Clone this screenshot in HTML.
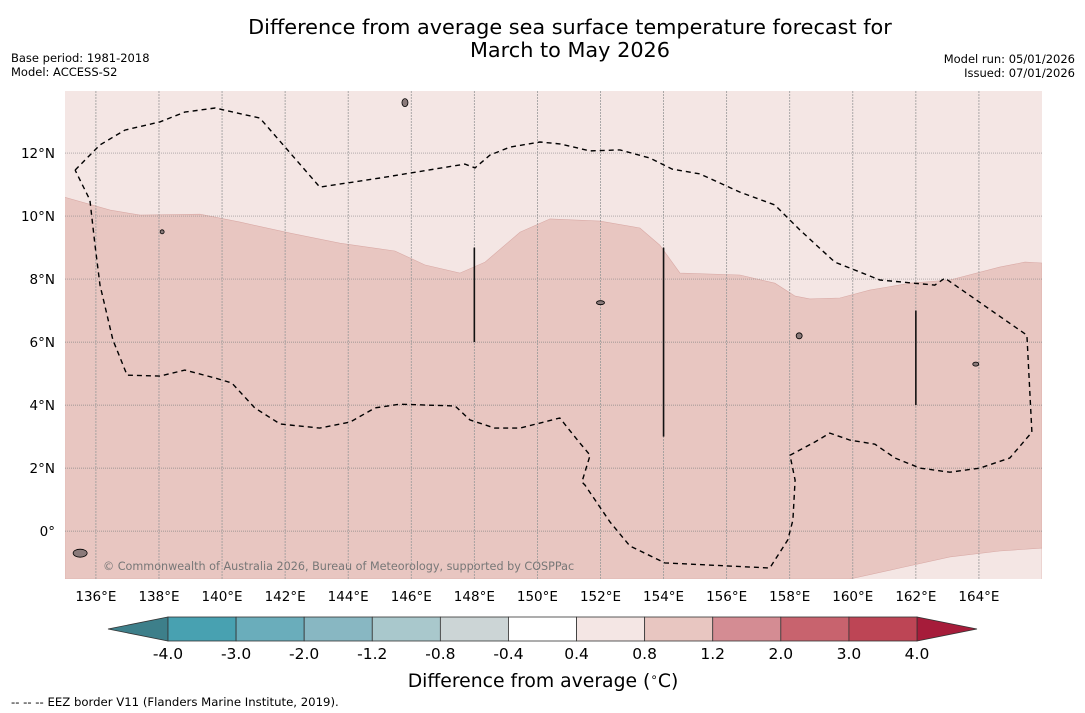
<!DOCTYPE html>
<html><head><meta charset="utf-8"><style>
body{margin:0;background:#fff;font-family:"DejaVu Sans","Liberation Sans",sans-serif;}
svg{display:block}
</style></head><body>
<svg id="s" width="1085" height="713" xmlns="http://www.w3.org/2000/svg">
<text x="570" y="34" font-size="20.8" text-anchor="middle">Difference from average sea surface temperature forecast for</text>
<text x="570" y="57" font-size="20.8" text-anchor="middle">March to May 2026</text>
<text x="11" y="62" font-size="11.5">Base period: 1981-2018</text>
<text x="11" y="76" font-size="11.5">Model: ACCESS-S2</text>
<text x="1075" y="63" font-size="11.5" text-anchor="end">Model run: 05/01/2026</text>
<text x="1075" y="77" font-size="11.5" text-anchor="end">Issued: 07/01/2026</text>
<g id="map"></g>
<g id="cb"></g>
<text x="543" y="687" font-size="18.8" text-anchor="middle">Difference from average (<tspan font-size="12" dy="-6">∘</tspan><tspan dy="6">C)</tspan></text>
<text x="11" y="706" font-size="11.7">--  --  -- EEZ border V11 (Flanders Marine Institute, 2019).</text>
</svg>
<script>
const lonTicks=[136,138,140,142,144,146,148,150,152,154,156,158,160,162,164];
const latTicks=[12,10,8,6,4,2,0];
const warmBoundary=[[135,10.6],[136.45,10.19],[137.4,10.03],[139.3,10.06],[140.57,9.81],[142.15,9.46],[143.74,9.14],[145.48,8.89],[146.43,8.45],[147.54,8.19],[148.34,8.54],[149.45,9.49],[150.4,9.91],[151.98,9.84],[153.25,9.62],[153.88,9.08],[154.52,8.19],[156.42,8.13],[157.53,7.87],[158.17,7.46],[158.64,7.37],[159.59,7.4],[160.54,7.65],[161.81,7.87],[163.08,7.97],[164.66,8.38],[165.46,8.54],[166,8.51]];
const southBoundary=[[159.91,-1.52],[161.49,-1.17],[163.08,-0.82],[164.66,-0.63],[166,-0.54]];
const eez=[[135.34,11.46],[136.13,12.26],[136.92,12.73],[138.03,12.99],[138.82,13.3],[139.78,13.43],[141.2,13.11],[143.1,10.92],[145.01,11.21],[147.7,11.65],[148.02,11.53],[148.5,11.94],[149.13,12.19],[150.08,12.35],[150.71,12.29],[151.67,12.07],[152.62,12.1],[153.57,11.84],[154.27,11.49],[155.15,11.34],[156.42,10.76],[157.53,10.35],[158.32,9.56],[159.43,8.54],[160.86,7.97],[162.6,7.81],[162.92,8.03],[165.52,6.22],[165.68,3.14],[164.98,2.32],[164.03,2],[163.08,1.87],[162.13,2],[161.34,2.32],[160.7,2.76],[159.91,2.89],[159.27,3.11],[158.8,2.83],[158.01,2.41],[158.17,1.62],[158.1,0.35],[157.94,-0.28],[157.37,-1.17],[154.04,-1.01],[152.93,-0.47],[152.3,0.29],[151.51,1.46],[151.41,1.56],[151.67,2.41],[151.35,2.79],[150.71,3.59],[149.45,3.27],[148.65,3.27],[147.86,3.53],[147.39,3.97],[145.64,4.03],[144.85,3.91],[144.06,3.46],[143.1,3.27],[141.84,3.4],[141.04,3.91],[140.31,4.7],[139.78,4.86],[138.82,5.11],[138.03,4.92],[136.99,4.95],[136.54,6.07],[136.13,7.81],[135.97,9.08],[135.81,10.51],[135.34,11.46]];
const borderLines=[[148,9,6],[154,9,3],[162,7,4]];
const cbLevels=["-4.0","-3.0","-2.0","-1.2","-0.8","-0.4","0.4","0.8","1.2","2.0","3.0","4.0"];
const cbColors=["#48a1b1","#6aadbb","#88b7c2","#a9c8cc","#ccd5d6","#ffffff","#f4e6e4","#e8c6c1","#d48c93","#c8636e","#bd4555"];
const NS="http://www.w3.org/2000/svg";
const L=65,R=1042,T=91,B=579,lon0=135.02,lon1=166.0,lat0=13.97,lat1=-1.52;
const X=lo=>L+(lo-lon0)/(lon1-lon0)*(R-L);
const Y=la=>T+(lat0-la)/(lat0-lat1)*(B-T);
function mk(t,a,p){const e=document.createElementNS(NS,t);for(const k in a)e.setAttribute(k,a[k]);p.appendChild(e);return e;}
const m=document.getElementById('map');
const clip=mk('clipPath',{id:'mc'},m);mk('rect',{x:L,y:T,width:R-L,height:B-T},clip);
const g=mk('g',{'clip-path':'url(#mc)'},m);
let bg=mk('rect',{x:L,y:T,width:R-L,height:B-T,fill:'#f4e6e4'},g);

let d='M'+warmBoundary.map(p=>X(p[0]).toFixed(1)+','+Y(p[1]).toFixed(1)).join('L')+'L'+R+','+B+'L'+L+','+B+'Z';
let w=mk('path',{d:d,fill:'#e8c6c1',stroke:'#d9aaa6','stroke-width':0.6},g);

d='M'+southBoundary.map(p=>X(p[0]).toFixed(1)+','+Y(p[1]).toFixed(1)).join('L')+'L'+R+','+(B+5)+'L'+X(southBoundary[0][0])+','+(B+5)+'Z';
let sb=mk('path',{d:d,fill:'#f4e6e4',stroke:'#d9aaa6','stroke-width':0.6},g);

lonTicks.forEach(v=>{const l=mk('line',{x1:X(v),x2:X(v),y1:T,y2:B,stroke:'#999','stroke-width':0.8,'stroke-dasharray':'2,1'},g);

const t=mk('text',{x:X(v),y:B+22,'font-size':13.5,'text-anchor':'middle'},m);t.textContent=v+'°E';
});
latTicks.forEach(v=>{const l=mk('line',{x1:L,x2:R,y1:Y(v),y2:Y(v),stroke:'#888','stroke-width':0.7,'stroke-dasharray':'1,1'},g);

const t=mk('text',{x:55,y:Y(v)+5,'font-size':13.5,'text-anchor':'end'},m);t.textContent=v===0?'0°':v+'°N';
});
let e=mk('path',{d:'M'+eez.map(p=>X(p[0]).toFixed(1)+','+Y(p[1]).toFixed(1)).join('L'),fill:'none',stroke:'#000','stroke-width':1.4,'stroke-dasharray':'5,4'},g);

borderLines.forEach(b=>{const l=mk('line',{x1:X(b[0]),x2:X(b[0]),y1:Y(b[1]),y2:Y(b[2]),stroke:'#111','stroke-width':1.6},g);
});
[[135.5,-0.7,7,4],[145.8,13.6,3,4],[138.1,9.5,2,2],[152.0,7.25,4,2],[158.3,6.2,3,3],[163.9,5.3,3,2]].forEach(i=>{const c=mk('ellipse',{cx:X(i[0]),cy:Y(i[1]),rx:i[2],ry:i[3],fill:'#8a7a7a',stroke:'#000','stroke-width':0.8},g);
});
let cr=mk('text',{x:103,y:570,'font-size':11.2,fill:'#777'},g);cr.textContent='© Commonwealth of Australia 2026, Bureau of Meteorology, supported by COSPPac';

const cb=document.getElementById('cb');
const c0=168,c1=917,cy0=617,cy1=641,bw=(c1-c0)/cbColors.length;
let lt=mk('polygon',{points:`108,629 ${c0},${cy0} ${c0},${cy1}`,fill:'#3d7f8a',stroke:'#333','stroke-width':0.8},cb);

let rt=mk('polygon',{points:`977,629 ${c1},${cy0} ${c1},${cy1}`,fill:'#a61c3a',stroke:'#333','stroke-width':0.8},cb);

cbColors.forEach((c,i)=>{const r=mk('rect',{x:c0+i*bw,y:cy0,width:bw,height:cy1-cy0,fill:c,stroke:'#333','stroke-width':0.8},cb);
});
cbLevels.forEach((v,i)=>{const t=mk('text',{x:c0+i*bw,y:659,'font-size':15.5,'text-anchor':'middle'},cb);t.textContent=v;
});
</script>
</body></html>
